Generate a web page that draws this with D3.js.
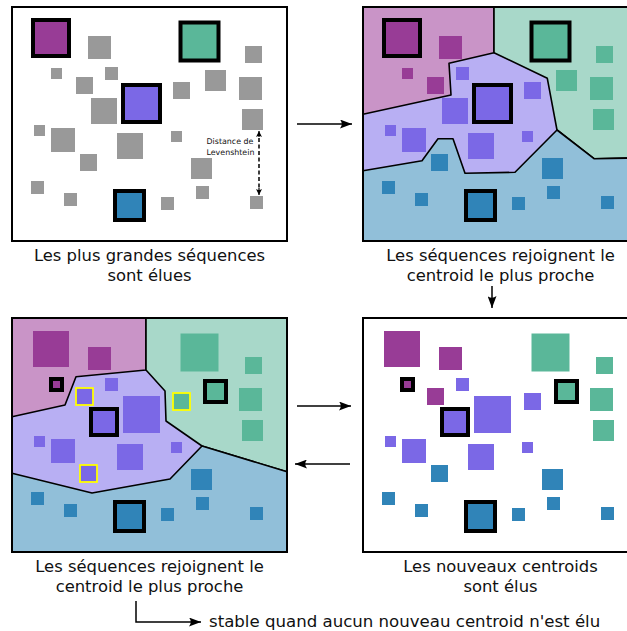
<!DOCTYPE html>
<html>
<head>
<meta charset="utf-8">
<script src="https://cdn.jsdelivr.net/npm/d3@7"></script>
<style>
html,body{margin:0;padding:0;background:#fff;}
svg{display:block;}
text{font-family:"DejaVu Sans",sans-serif;fill:#111;}
</style>
</head>
<body>
<div id="chart"></div>
<script>
// ---- data (panel-1 coordinate system) ----
const squareIds  = [1,2,3,4,5,6,7,8,9,10,11,12,13,14,15,16,17,18,19,20,21,22,23,24,25];
const squareX    = [33,88,180.5,245,51,105,76,205,239,173,123,91,242,34,51,117,171,80,191,31,64,115,161,196,250];
const squareY    = [20,36,22.5,46,68,67,77,70,77,82,85,98,109,125,128,133,131,154,158,181,193,191,197,186,196];
const squareSize = [36,23,38,17,11,13,17,21,23,17,37,26,21,11,24,26,11,17,21,13,13,29,13,13,13];

// cluster assignments (m = magenta, t = teal, p = purple, b = blue, g = unassigned)
const clusterStep1 = ["m","g","t","g","g","g","g","g","g","g","p","g","g","g","g","g","g","g","g","g","g","b","g","g","g"];
const clusterStep2 = ["m","m","t","t","m","p","m","t","t","p","p","p","t","p","p","p","p","b","b","b","b","b","b","b","b"];
const clusterStep3 = ["m","m","t","t","m","p","p","t","t","t","p","p","t","p","p","p","p","p","b","b","b","b","b","b","b"];
const clusterStep4 = clusterStep2;

const centroidsOld = [1,3,11,22];
const centroidsNew = [5,8,12,22];
const movedSquares = [7,10,18];

// region borders
const regionsStep2 = {
  m: [[12,7],[143,7],[143,52.7],[98,63.3],[100,95],[12,114.3]],
  t: [[143,7],[287,7],[287,158],[243,158.7],[206,130],[196.3,78.3],[143,52.7]],
  b: [[12,170.7],[71,160.7],[87,138.7],[102,138.7],[114,173.3],[164,172.3],[206,130],[243,158.7],[287,158],[287,241],[12,241]]
};
const regionsStep3 = {
  m: [[12,7],[146,7],[146,59],[76,65.7],[65,94],[12,105.7]],
  t: [[146,7],[287,7],[287,160.7],[202,135],[166,110],[165,80],[146,59]],
  b: [[12,162.3],[92,182],[170,168],[202,135],[287,160.7],[287,241],[12,241]]
};

const captionsP1 = ["Les plus grandes séquences","sont élues"];
const captionsP2 = ["Les séquences rejoignent le","centroid le plus proche"];
const captionsP3 = ["Les séquences rejoignent le","centroid le plus proche"];
const captionsP4 = ["Les nouveaux centroids","sont élus"];
const annotationLines = ["Distance de","Levenshtein"];
const footerText = "stable quand aucun nouveau centroid n'est élu";

// ---- styles ----
const squareColor = {m:"#983c96", t:"#5ab799", p:"#7b68e6", b:"#3084b8", g:"#999999"};
const regionColor = {m:"#c994c7", t:"#a8d8c9", p:"#b8aff3", b:"#91bfd9"};

const W = 627, H = 631;
const svg = d3.select("#chart").append("svg").attr("width",W).attr("height",H);

const defs = svg.append("defs");
function addMarker(id, len, half){
  defs.append("marker").attr("id",id).attr("viewBox",`0 ${-half} ${len} ${half*2}`)
    .attr("refX",len).attr("refY",0).attr("markerUnits","userSpaceOnUse")
    .attr("markerWidth",len).attr("markerHeight",half*2).attr("orient","auto")
    .append("path").attr("d",`M${len},0 L0,${-half} Q${len*0.3},0 0,${half} Z`).attr("fill","#000");
}
addMarker("arr",12,4.5);
addMarker("arrs",6,3);

const frame = {x0:12, y0:7, x1:287, y1:241};

function panel(dx, dy, clusters, centroids, regions, moved, captions){
  const x = d3.scaleLinear().domain([0,W]).range([dx, dx+W]);
  const y = d3.scaleLinear().domain([0,H]).range([dy, dy+H]);
  const g = svg.append("g");
  g.append("rect").attr("x",x(frame.x0)).attr("y",y(frame.y0))
    .attr("width",x(frame.x1)-x(frame.x0)).attr("height",y(frame.y1)-y(frame.y0))
    .attr("fill", regions ? regionColor.p : "#fff");
  if (regions){
    const line = d3.line().x(d=>x(d[0])).y(d=>y(d[1]));
    ["m","t","b"].forEach(k=>{
      g.append("path").attr("d", line(regions[k])+"Z").attr("fill",regionColor[k])
        .attr("stroke","#000").attr("stroke-width",1.6).attr("stroke-linejoin","round");
    });
  }
  squareIds.forEach((id,i)=>{
    g.append("rect").attr("x",x(squareX[i])).attr("y",y(squareY[i]))
      .attr("width",squareSize[i]).attr("height",squareSize[i])
      .attr("fill",squareColor[clusters[i]]);
  });
  (moved||[]).forEach(id=>{
    const i = squareIds.indexOf(id);
    g.append("rect").attr("x",x(squareX[i])).attr("y",y(squareY[i]))
      .attr("width",squareSize[i]).attr("height",squareSize[i])
      .attr("fill","none").attr("stroke","#ffff00").attr("stroke-width",1.8);
  });
  centroids.forEach(id=>{
    const i = squareIds.indexOf(id);
    g.append("rect").attr("x",x(squareX[i])).attr("y",y(squareY[i]))
      .attr("width",squareSize[i]).attr("height",squareSize[i])
      .attr("fill","none").attr("stroke","#000").attr("stroke-width",4);
  });
  g.append("rect").attr("x",x(frame.x0)).attr("y",y(frame.y0))
    .attr("width",x(frame.x1)-x(frame.x0)).attr("height",y(frame.y1)-y(frame.y0))
    .attr("fill","none").attr("stroke","#000").attr("stroke-width",2);
  const cx = x((frame.x0+frame.x1)/2);
  captions.forEach((t,k)=>{
    g.append("text").attr("x",cx).attr("y",y(261+k*20)).attr("text-anchor","middle")
      .attr("font-size",16.4).text(t);
  });
  return {g,x,y};
}

const p1 = panel(0,0,clusterStep1,centroidsOld,null,null,captionsP1);
panel(351,0,clusterStep2,centroidsOld,regionsStep2,null,captionsP2);
panel(0,311,clusterStep3,centroidsNew,regionsStep3,movedSquares,captionsP3);
panel(351,311,clusterStep4,centroidsNew,null,null,captionsP4);

// Levenshtein annotation
annotationLines.forEach((t,k)=>{
  p1.g.append("text").attr("x",p1.x(206.5)).attr("y",p1.y(143.5+k*11)).attr("font-size",7.9).text(t);
});
p1.g.append("line").attr("x1",259).attr("y1",138).attr("x2",259).attr("y2",188)
  .attr("stroke","#000").attr("stroke-width",1.5).attr("stroke-dasharray","4,2.5");
p1.g.append("line").attr("x1",259).attr("y1",137).attr("x2",259).attr("y2",131)
  .attr("stroke","#000").attr("stroke-width",1.2).attr("marker-end","url(#arrs)");
p1.g.append("line").attr("x1",259).attr("y1",188).attr("x2",259).attr("y2",195)
  .attr("stroke","#000").attr("stroke-width",1.2).attr("marker-end","url(#arrs)");

// flow arrows
const arrows = [
  [[297,124],[352,124]],
  [[492,286],[492,308]],
  [[297,406],[351,406]],
  [[350,464],[295,464]],
  [[136,601],[136,622],[201,622]]
];
const aline = d3.line();
arrows.forEach(a=>{
  svg.append("path").attr("d",aline(a)).attr("fill","none").attr("stroke","#000")
    .attr("stroke-width",1.5).attr("marker-end","url(#arr)");
});
svg.append("text").attr("x",209).attr("y",627).attr("font-size",16.6).text(footerText);
</script>
</body>
</html>
